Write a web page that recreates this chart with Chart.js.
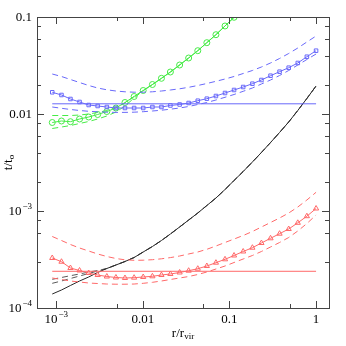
<!DOCTYPE html>
<html>
<head>
<meta charset="utf-8">
<script src="https://cdn.jsdelivr.net/npm/chart.js@4.4.0/dist/chart.umd.min.js"></script>
<style>
html, body { margin: 0; padding: 0; background: #fff; }
</style>
</head>
<body>
<canvas id="chart" width="346" height="346"></canvas>
<script>
// radii (r/r_vir) where the profiles are sampled
const radius = [0.0009, 0.00115, 0.00146, 0.00186, 0.00237, 0.00301, 0.00384, 0.00489, 0.00622, 0.00793,
    0.0101, 0.0129, 0.0164, 0.0208, 0.0266, 0.0338, 0.0431, 0.0548, 0.0698, 0.0889,
    0.113, 0.144, 0.184, 0.234, 0.298, 0.379, 0.483, 0.615, 0.783, 1.0];
const flatRange = [0.0009, 1.0];

// blue set
const blueMarked = [0.01675, 0.0157, 0.01428, 0.0133, 0.01238, 0.01209, 0.01181, 0.01153, 0.01153, 0.01153,
    0.01153, 0.01181, 0.01181, 0.01224, 0.01253, 0.01298, 0.01371, 0.01438, 0.01533, 0.01646,
    0.01768, 0.01898, 0.02053, 0.02241, 0.02482, 0.0273, 0.03001, 0.03357, 0.03896, 0.04494];
const blueUpper = [0.02584, 0.02436, 0.02268, 0.02112, 0.01967, 0.01854, 0.01776, 0.01726, 0.01694, 0.01678,
    0.01678, 0.01694, 0.01726, 0.01768, 0.01819, 0.01885, 0.01967, 0.02063, 0.02173, 0.02295,
    0.02436, 0.02615, 0.02809, 0.03052, 0.03357, 0.03734, 0.04205, 0.0479, 0.05525, 0.0637];
const blueLower = [0.01181, 0.01145, 0.01113, 0.01087, 0.01066, 0.01054, 0.01044, 0.01039, 0.01039, 0.01044,
    0.01056, 0.01074, 0.01094, 0.01121, 0.01153, 0.01195, 0.01253, 0.01314, 0.01394, 0.01487,
    0.01589, 0.01714, 0.01854, 0.02039, 0.02241, 0.02494, 0.02809, 0.032, 0.03646, 0.04155];
const blueFlat = [0.01274, 0.01274];

// red set
const redMarked = [3.277e-4, 3.0e-4, 2.584e-4, 2.435e-4, 2.295e-4, 2.188e-4, 2.111e-4, 2.063e-4, 2.039e-4, 2.054e-4,
    2.088e-4, 2.122e-4, 2.188e-4, 2.242e-4, 2.323e-4, 2.423e-4, 2.541e-4, 2.71e-4, 2.931e-4, 3.177e-4,
    3.477e-4, 3.824e-4, 4.183e-4, 4.677e-4, 5.23e-4, 5.834e-4, 6.52e-4, 7.556e-4, 8.84e-4, 1.061e-3];
const redUpper = [5.46e-4, 4.963e-4, 4.513e-4, 4.155e-4, 3.869e-4, 3.604e-4, 3.396e-4, 3.238e-4, 3.14e-4, 3.103e-4,
    3.11e-4, 3.147e-4, 3.215e-4, 3.308e-4, 3.436e-4, 3.604e-4, 3.779e-4, 4.029e-4, 4.357e-4, 4.734e-4,
    5.143e-4, 5.589e-4, 6.146e-4, 6.84e-4, 7.61e-4, 8.47e-4, 9.53e-4, 1.0996e-3, 1.298e-3, 1.559e-3];
const redLower = [2.039e-4, 1.967e-4, 1.898e-4, 1.854e-4, 1.81e-4, 1.788e-4, 1.767e-4, 1.759e-4, 1.759e-4, 1.767e-4,
    1.797e-4, 1.84e-4, 1.898e-4, 1.967e-4, 2.039e-4, 2.111e-4, 2.215e-4, 2.35e-4, 2.523e-4, 2.71e-4,
    2.944e-4, 3.2e-4, 3.477e-4, 3.824e-4, 4.255e-4, 4.734e-4, 5.33e-4, 6.22e-4, 7.43e-4, 9.09e-4];
const redFlat = [2.39e-4, 2.39e-4];

// green set (runs off the top after ~0.1)
const greenMarked = [8.17e-3, 8.47e-3, 8.33e-3, 8.88e-3, 9.31e-3, 9.88e-3, 0.01061, 0.01153, 0.01314, 0.01515,
    0.01747, 0.02014, 0.02333, 0.0271, 0.032, 0.03778, 0.04494, 0.05435, 0.0657, 0.0808, 0.0993];
const greenUpper = [9.65e-3, 9.65e-3, 9.65e-3, 9.76e-3, 0.01, 0.01036, 0.01087, 0.01167, 0.01298, 0.01515,
    0.01747, 0.02014, 0.02333, 0.0271, 0.032, 0.03778, 0.04494, 0.05435, 0.0657, 0.0808, 0.0993];
const greenLower = [7.09e-3, 7.34e-3, 7.61e-3, 7.98e-3, 8.37e-3, 8.88e-3, 9.54e-3, 0.01048, 0.01209, 0.01462,
    0.0174, 0.0201, 0.0233, 0.0271, 0.032, 0.03778, 0.04494, 0.05435, 0.0657, 0.0808, 0.0993];

// black set
const blackMain = [1.394e-4, 1.533e-4, 1.706e-4, 1.898e-4, 2.088e-4, 2.323e-4, 2.554e-4, 2.775e-4, 3.015e-4, 3.316e-4,
    3.779e-4, 4.305e-4, 4.963e-4, 5.794e-4, 6.84e-4, 8.07e-4, 9.53e-4, 1.139e-3, 1.361e-3, 1.666e-3,
    2.063e-3, 2.554e-3, 3.2e-3, 4.01e-3, 5.08e-3, 6.45e-3, 8.27e-3, 0.01087, 0.01445, 0.01944];
const blackCoreA = [1.976e-4, 2.063e-4, 2.153e-4, 2.242e-4, 2.35e-4, 2.435e-4, 2.554e-4, 2.775e-4, 3.015e-4, 3.316e-4,
    3.779e-4, 4.305e-4, 4.963e-4, 5.794e-4, 6.84e-4, 8.07e-4, 9.53e-4, 1.139e-3, 1.361e-3, 1.666e-3,
    2.063e-3, 2.554e-3, 3.2e-3, 4.01e-3, 5.08e-3, 6.45e-3, 8.27e-3, 0.01087, 0.01445, 0.01944];
const blackCoreB = [1.797e-4, 1.898e-4, 2.014e-4, 2.137e-4, 2.268e-4, 2.406e-4, 2.554e-4, 2.775e-4, 3.015e-4, 3.316e-4,
    3.779e-4, 4.305e-4, 4.963e-4, 5.794e-4, 6.84e-4, 8.07e-4, 9.53e-4, 1.139e-3, 1.361e-3, 1.666e-3,
    2.063e-3, 2.554e-3, 3.2e-3, 4.01e-3, 5.08e-3, 6.45e-3, 8.27e-3, 0.01087, 0.01445, 0.01944];

// tick labels: [base, superscript]
const xTickValues = [0.001, 0.01, 0.1, 1];
const xTickLabels = [['10', '\u22123'], ['0.01', ''], ['0.1', ''], ['1', '']];
const yTickValues = [1e-4, 1e-3, 0.01, 0.1];
const yTickLabels = [['10', '\u22124'], ['10', '\u22123'], ['0.01', ''], ['0.1', '']];

const BLUE = 'rgb(105,105,250)';
const RED = 'rgb(255,105,105)';
const GREEN = 'rgb(70,235,70)';
const BLACK = 'rgb(40,40,40)';
const FONT = '"Liberation Serif", "DejaVu Serif", serif';

function pts(xs, ys) {
    return ys.map((y, i) => ({x: xs[i], y: y}));
}

function line(label, xs, ys, color, opts) {
    return Object.assign({
        label: label,
        data: pts(xs, ys),
        borderColor: color,
        backgroundColor: 'transparent',
        borderWidth: 1,
        pointRadius: 0,
        tension: 0
    }, opts || {});
}

const dash = [6, 4];

// frame, inward ticks on all sides, labels with superscripts
const axesPlugin = {
    id: 'axesPlugin',
    afterDraw(chart) {
        const ctx = chart.ctx;
        const a = chart.chartArea;
        const xs = chart.scales.x, ys = chart.scales.y;
        ctx.save();
        ctx.strokeStyle = '#444';
        ctx.lineWidth = 1;
        ctx.strokeRect(Math.round(a.left) + 0.5, Math.round(a.top) + 0.5,
            Math.round(a.right - a.left), Math.round(a.bottom - a.top));

        const isNice = v => {
            const e = Math.floor(Math.log10(v) + 1e-9);
            const s = v / Math.pow(10, e);
            return Math.abs(s - Math.round(s)) < 1e-6;
        };
        const isMajor = v => Math.abs(Math.log10(v) - Math.round(Math.log10(v))) < 1e-6;

        ctx.beginPath();
        xs.ticks.forEach(t => {
            if (!isNice(t.value)) return;
            const px = Math.round(xs.getPixelForValue(t.value)) + 0.5;
            const len = isMajor(t.value) ? 7 : 4;
            ctx.moveTo(px, a.bottom); ctx.lineTo(px, a.bottom - len);
            ctx.moveTo(px, a.top); ctx.lineTo(px, a.top + len);
        });
        ys.ticks.forEach(t => {
            if (!isNice(t.value)) return;
            const py = Math.round(ys.getPixelForValue(t.value)) + 0.5;
            const len = isMajor(t.value) ? 7 : 4;
            ctx.moveTo(a.left, py); ctx.lineTo(a.left + len, py);
            ctx.moveTo(a.right, py); ctx.lineTo(a.right - len, py);
        });
        ctx.stroke();

        ctx.fillStyle = '#000';
        ctx.textBaseline = 'middle';
        ctx.textAlign = 'left';
        const big = '13px ' + FONT, small = '9px ' + FONT;
        function widthOf(text, font) {
            ctx.font = font;
            return ctx.measureText(text).width;
        }
        function labelWidth(base, sup) {
            return widthOf(base, big) + (sup ? widthOf(sup, small) + 1 : 0);
        }
        function drawLabel(base, sup, left, y) {
            ctx.font = big;
            ctx.fillText(base, left, y);
            if (sup) {
                const w = widthOf(base, big);
                ctx.font = small;
                ctx.fillText(sup, left + w + 1, y - 5);
            }
        }
        xTickValues.forEach((v, i) => {
            const [base, sup] = xTickLabels[i];
            const w = labelWidth(base, sup);
            drawLabel(base, sup, xs.getPixelForValue(v) - w / 2, a.bottom + 12);
        });
        yTickValues.forEach((v, i) => {
            const [base, sup] = yTickLabels[i];
            const w = labelWidth(base, sup);
            drawLabel(base, sup, a.left - 5 - w, ys.getPixelForValue(v) + 1);
        });

        // x title r/r_vir
        const rW = widthOf('r/r', big);
        const virW = widthOf('vir', small);
        const x0 = (a.left + a.right) / 2 - (rW + virW) / 2;
        ctx.font = big;
        ctx.fillText('r/r', x0, a.bottom + 26);
        ctx.font = small;
        ctx.fillText('vir', x0 + rW, a.bottom + 29);

        // y title t/t_o
        ctx.save();
        ctx.translate(9, (a.top + a.bottom) / 2);
        ctx.rotate(-Math.PI / 2);
        const tW = widthOf('t/t', big);
        const oW = widthOf('o', small);
        ctx.font = big;
        ctx.fillText('t/t', -(tW + oW) / 2, 0);
        ctx.font = small;
        ctx.fillText('o', -(tW + oW) / 2 + tW, 3);
        ctx.restore();

        ctx.restore();
    }
};

const ctx = document.getElementById('chart').getContext('2d');
new Chart(ctx, {
    type: 'line',
    data: {
        datasets: [
            line('blue', radius, blueMarked, BLUE, {pointRadius: 2.5, pointStyle: 'rect', pointBorderWidth: 1, pointBorderColor: BLUE, pointBackgroundColor: 'transparent'}),
            line('blue upper', radius, blueUpper, BLUE, {borderDash: dash}),
            line('blue lower', radius, blueLower, BLUE, {borderDash: dash}),
            line('blue flat', flatRange, blueFlat, BLUE),
            line('green', radius, greenMarked, GREEN, {pointRadius: 3, pointStyle: 'circle', pointBorderWidth: 1, pointBorderColor: GREEN, pointBackgroundColor: 'transparent'}),
            line('green upper', radius, greenUpper, GREEN, {borderDash: dash}),
            line('green lower', radius, greenLower, GREEN, {borderDash: dash}),
            line('red', radius, redMarked, RED, {pointRadius: 3, pointStyle: 'triangle', pointBorderWidth: 1, pointBorderColor: RED, pointBackgroundColor: 'transparent'}),
            line('red upper', radius, redUpper, RED, {borderDash: dash}),
            line('red lower', radius, redLower, RED, {borderDash: dash}),
            line('red flat', flatRange, redFlat, RED),
            line('black', radius, blackMain, BLACK),
            line('black core a', radius, blackCoreA, 'rgb(90,90,90)', {borderDash: dash}),
            line('black core b', radius, blackCoreB, 'rgb(90,90,90)', {borderDash: dash})
        ]
    },
    options: {
        responsive: false,
        animation: false,
        layout: {padding: {left: 37, right: 17, top: 17, bottom: 38}},
        plugins: {legend: {display: false}, tooltip: {enabled: false}},
        scales: {
            x: {
                type: 'logarithmic',
                display: false,
                min: 6.22e-4,
                max: 1.41
            },
            y: {
                type: 'logarithmic',
                display: false,
                min: 1e-4,
                max: 0.1
            }
        }
    },
    plugins: [axesPlugin]
});
</script>
</body>
</html>
